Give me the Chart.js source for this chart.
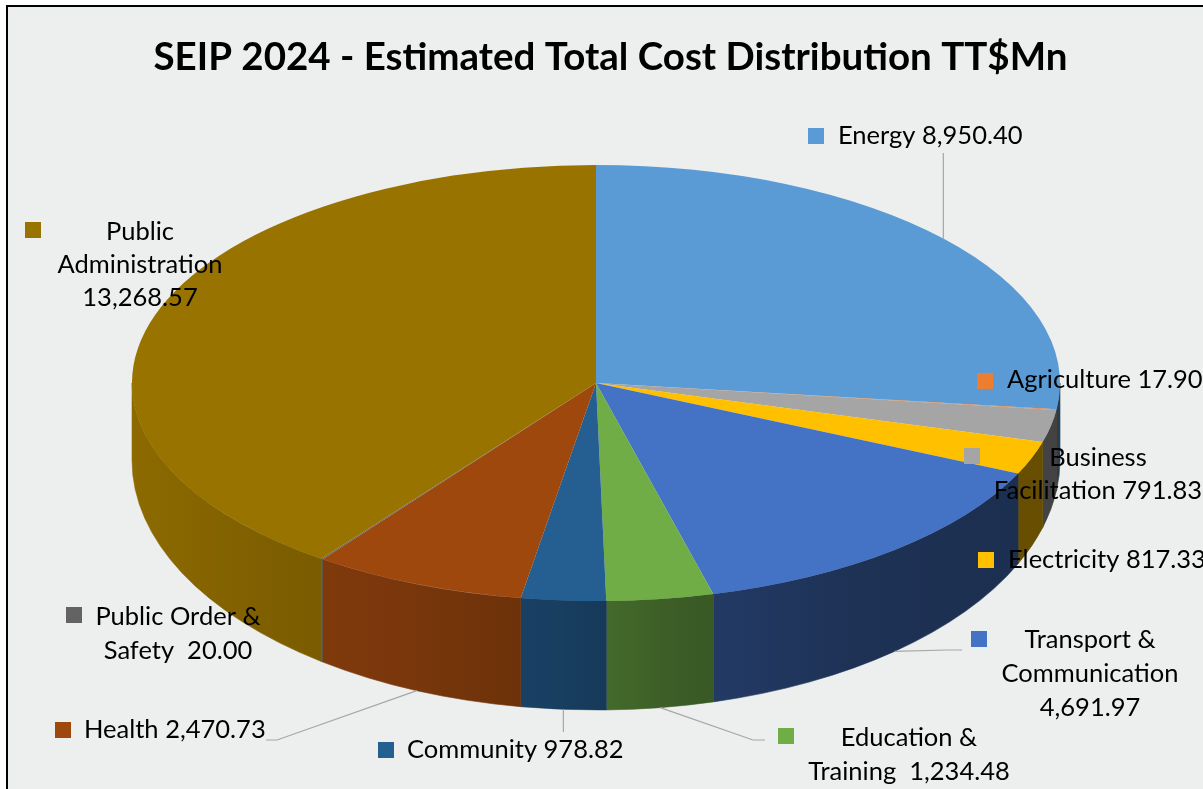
<!DOCTYPE html>
<html><head><meta charset="utf-8">
<script src="https://cdn.jsdelivr.net/npm/chart.js@4"></script>
<style>html,body{margin:0;padding:0;background:#fff;overflow:hidden}canvas{display:block}</style>
</head><body>
<canvas id="c" width="1203" height="789"></canvas>
<script>
// ---- data ----
const categories = ["Energy","Agriculture","Business Facilitation","Electricity","Transport & Communication","Education & Training","Community","Health","Public Order & Safety","Public Administration"];
const values = [8950.40, 17.90, 791.83, 817.33, 4691.97, 1234.48, 978.82, 2470.73, 20.00, 13268.57];
const colors = ["#5B9BD5","#ED7D31","#A5A5A5","#FFC000","#4472C4","#70AD47","#255E91","#9E480E","#636363","#997300"];
const titleText = "SEIP 2024 - Estimated Total Cost Distribution TT$Mn";

// ---- geometry / style (not data) ----
const P = {cx:596, cy:383, rx:464, ry:218, cyb:460, ryb:250};
const shade = [[132,0.92],[280,0.82],[400,0.77],[560,0.66],[680,0.53],[850,0.44],[1060,0.40]];
const FONT = 'Lato';
const labelLayout = [
  {key:[808,128], align:'left',   x:838,  y:136, lines:[1], own:false, sep:' ', leader:{from:'top', v:153}},
  {key:[977,373], align:'left',   x:1007, y:380, lines:[1], own:false, sep:' '},
  {key:[964,448], align:'center', x:1098, y:458, lh:33, lines:[1,1], own:false, sep:' '},
  {key:[978,552], align:'left',   x:1008, y:560, lines:[1], own:false, sep:' '},
  {key:[971,631], align:'center', x:1090, y:640, lh:34, lines:[2,1], own:true, leader:{from:'bottom', pts:[[947,650],[962,650]]}},
  {key:[778,728], align:'center', x:909,  y:738, lh:34, lines:[2,1], own:false, sep:'  ', leader:{from:'bottom', pts:[[753,740],[765,740]]}},
  {key:[378,742], align:'left',   x:407,  y:750, lines:[1], own:false, sep:' ', leader:{from:'bottom', v:732}},
  {key:[55,722],  align:'left',   x:84,   y:730, lines:[1], own:false, sep:' ', leader:{from:'bottom', pts:[[277,740],[266,740]]}},
  {key:[66,607],  align:'center', x:178,  y:617, lh:34, lines:[3,1], own:false, sep:'  '},
  {key:[25,222],  align:'center', x:140,  y:232, lh:33, lines:[1,1], own:true}
];

function fmt(v){ return v.toLocaleString('en-US',{minimumFractionDigits:2, maximumFractionDigits:2}); }
function darken(hex,f){ const n=parseInt(hex.slice(1),16); const r=(n>>16)&255,g=(n>>8)&255,b=n&255;
  return `rgb(${Math.round(r*f)},${Math.round(g*f)},${Math.round(b*f)})`; }

const background = {
  id:'background',
  beforeDraw(chart){
    const ctx=chart.ctx; ctx.save();
    ctx.fillStyle='#ffffff'; ctx.fillRect(0,0,chart.width,chart.height);
    ctx.fillStyle='#EDEEEE'; ctx.fillRect(8,7,chart.width,chart.height);
    ctx.fillStyle='#000000'; ctx.fillRect(6,5,2,chart.height); ctx.fillRect(6,5,chart.width,2);
    ctx.restore();
  }
};

const pie3d = {
  id:'pie3d',
  beforeDatasetsDraw(chart){
    const ctx=chart.ctx; const arcs=chart.getDatasetMeta(0).data;
    ctx.save();
    arcs.forEach((arc,i)=>{
      const a1=Math.max(arc.startAngle,0), a2=Math.min(arc.endAngle,Math.PI);
      if(a2<=a1) return;
      const g=ctx.createLinearGradient(P.cx-P.rx,0,P.cx+P.rx,0);
      shade.forEach(([x,f])=>g.addColorStop(Math.min(1,Math.max(0,(x-(P.cx-P.rx))/(2*P.rx))), darken(colors[i],f)));
      ctx.beginPath();
      ctx.ellipse(P.cx,P.cy,P.rx,P.ry,0,a1,a2,false);
      ctx.ellipse(P.cx,P.cyb,P.rx,P.ryb,0,a2,a1,true);
      ctx.closePath();
      ctx.fillStyle=g; ctx.fill();
      ctx.strokeStyle=g; ctx.lineWidth=0.6; ctx.stroke();
    });
    ctx.restore();
    const a=arcs[0];
    ctx.save();
    ctx.translate(P.cx,P.cy);
    ctx.scale(P.rx/a.outerRadius, P.ry/a.outerRadius);
    ctx.translate(-a.x,-a.y);
  },
  afterDatasetsDraw(chart){ chart.ctx.restore(); }
};

const labels3d = {
  id:'labels3d',
  afterDraw(chart){
    const ctx=chart.ctx; const arcs=chart.getDatasetMeta(0).data;
    ctx.save();
    ctx.strokeStyle='#A6A6A6'; ctx.lineWidth=1.2;
    arcs.forEach((arc,i)=>{
      const L=labelLayout[i].leader; if(!L) return;
      const m=(arc.startAngle+arc.endAngle)/2;
      const px=P.cx+P.rx*Math.cos(m);
      const py= L.from==='top' ? P.cy+P.ry*Math.sin(m) : P.cyb+P.ryb*Math.sin(m);
      ctx.beginPath(); ctx.moveTo(px,py);
      if(L.v!==undefined) ctx.lineTo(px,L.v);
      else L.pts.forEach(p=>ctx.lineTo(p[0],p[1]));
      ctx.stroke();
    });
    ctx.font=`25.5px ${FONT}`; ctx.textBaseline='middle';
    categories.forEach((name,i)=>{
      const L=labelLayout[i];
      ctx.fillStyle=colors[i]; ctx.fillRect(L.key[0],L.key[1],16,16);
      const words=name.split(' '); const lines=[]; let k=0;
      L.lines.forEach(n=>{ lines.push(words.slice(k,k+n).join(' ')); k+=n; });
      if(L.own) lines.push(fmt(values[i])); else lines[lines.length-1]+= L.sep+fmt(values[i]);
      ctx.fillStyle='#000'; ctx.textAlign=L.align;
      lines.forEach((t,j)=>ctx.fillText(t,L.x,L.y+j*(L.lh||34)));
    });
    ctx.restore();
  }
};

new Chart(document.getElementById('c'),{
  type:'pie',
  data:{labels:categories, datasets:[{data:values, backgroundColor:colors, borderWidth:0, clip:false}]},
  options:{
    responsive:false, animation:false, events:[],
    layout:{padding:{left:18}},
    plugins:{
      legend:{display:false}, tooltip:{enabled:false},
      title:{display:true, text:titleText, color:'#000', font:{family:FONT, size:38.5, weight:'bold'}, padding:{top:34,bottom:10}}
    }
  },
  plugins:[background,pie3d,labels3d]
});
</script>
</body></html>
